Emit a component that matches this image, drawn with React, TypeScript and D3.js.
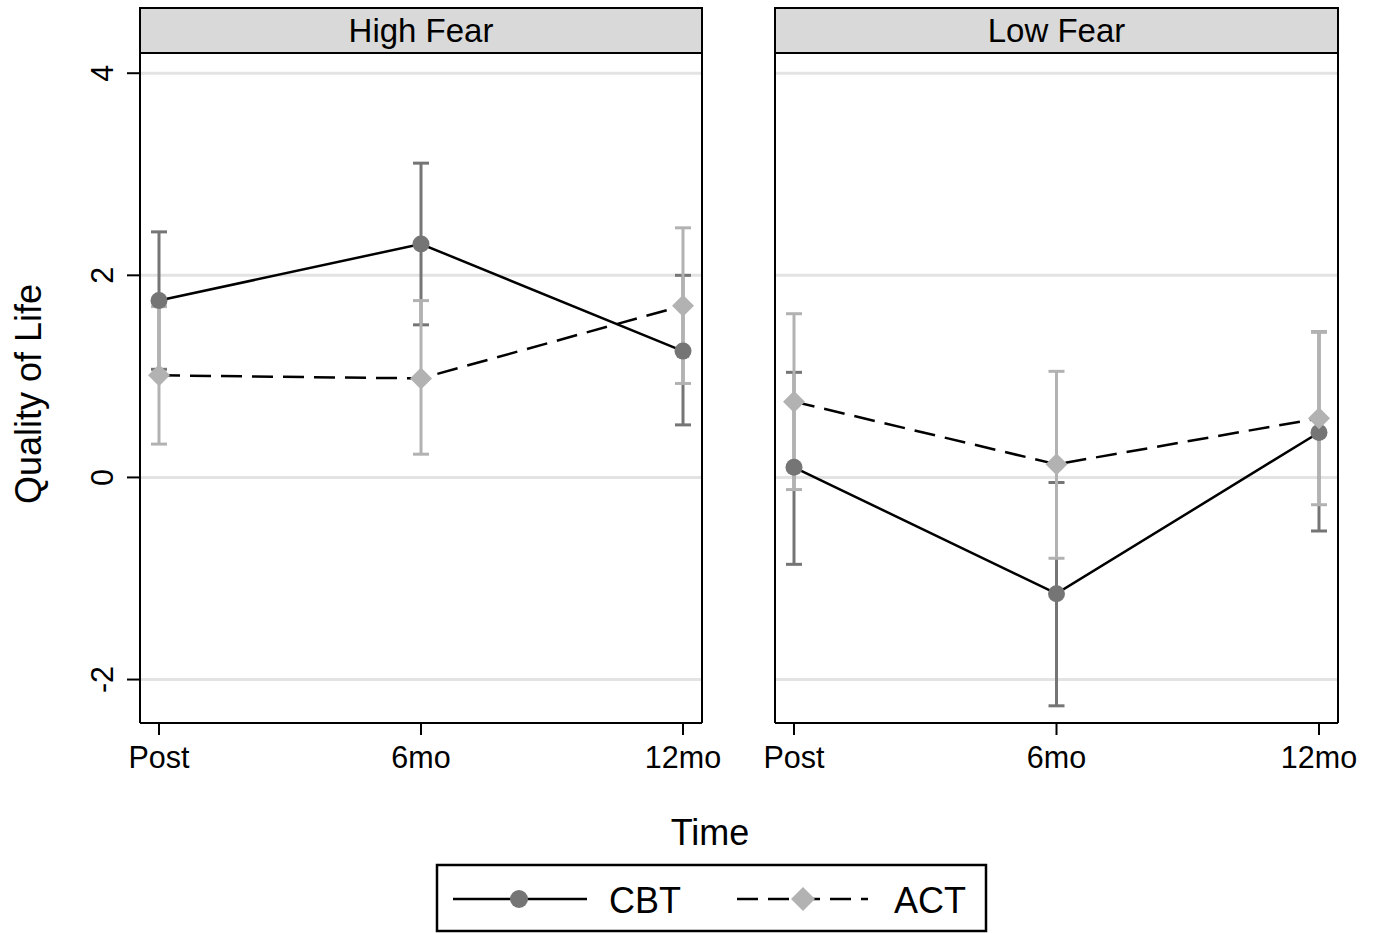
import React from "react";
import * as d3 from "d3";

const timepoints = ["Post", "6mo", "12mo"];
const panels = ["High Fear", "Low Fear"];
const yTicks = [-2, 0, 2, 4];
// [panel][time]
const cbtEst = [[1.75, 2.31, 1.25], [0.10, -1.15, 0.445]];
const cbtLo = [[1.07, 1.51, 0.52], [-0.86, -2.26, -0.53]];
const cbtHi = [[2.43, 3.11, 2.0], [1.04, -0.05, 1.44]];
const actEst = [[1.01, 0.98, 1.70], [0.75, 0.13, 0.585]];
const actLo = [[0.33, 0.23, 0.93], [-0.12, -0.80, -0.27]];
const actHi = [[1.69, 1.75, 2.47], [1.62, 1.05, 1.44]];

const CBT_COL = "#757575";
const ACT_COL = "#b2b2b2";
const FONT = "'Liberation Sans', Arial, Helvetica, sans-serif";
const DASH = "21,10";

export default function App() {
  const W = 1374, H = 933;
  const panelX = [[140, 702], [775, 1338]];
  const stripTop = 8, plotTop = 53, plotBot = 723;
  const y = d3.scaleLinear().domain([-2.43, 4.2]).range([plotBot, plotTop]);

  const errBar = (x: number, lo: number, hi: number, col: string, key: string) => (
    <g key={key} stroke={col} strokeWidth={3}>
      <line x1={x} x2={x} y1={y(lo)} y2={y(hi)} />
      <line x1={x - 8} x2={x + 8} y1={y(lo)} y2={y(lo)} />
      <line x1={x - 8} x2={x + 8} y1={y(hi)} y2={y(hi)} />
    </g>
  );
  const diamond = (cx: number, cy: number, r: number) =>
    `M${cx},${cy - r}L${cx + r},${cy}L${cx},${cy + r}L${cx - r},${cy}Z`;

  return (
    <svg width={W} height={H} style={{ position: "absolute", left: 0, top: 0, background: "#fff" }} fontFamily={FONT}>
      <rect width={W} height={H} fill="#fff" />
      {panels.map((p, pi) => {
        const [x0, x1] = panelX[pi];
        const x = d3.scalePoint<string>().domain(timepoints).range([x0 + 19, x1 - 19]);
        const line = d3.line<number>().x((_, i) => x(timepoints[i])!).y((d) => y(d));
        return (
          <g key={p}>
            {yTicks.map((t) => (
              <line key={t} x1={x0} x2={x1} y1={y(t)} y2={y(t)} stroke="#e3e3e3" strokeWidth={3} />
            ))}
            <rect x={x0} y={stripTop} width={x1 - x0} height={plotTop - stripTop} fill="#d9d9d9" stroke="#000" strokeWidth={2} />
            <text x={(x0 + x1) / 2} y={(stripTop + plotTop) / 2 + 11} textAnchor="middle" fontSize={33}>{p}</text>
            <line x1={x0} x2={x0} y1={plotTop} y2={plotBot} stroke="#000" strokeWidth={2} />
            <line x1={x1} x2={x1} y1={plotTop} y2={plotBot} stroke="#000" strokeWidth={2} />
            <line x1={x0} x2={x1} y1={plotBot} y2={plotBot} stroke="#000" strokeWidth={2} />
            {timepoints.map((t) => (
              <g key={t}>
                <line x1={x(t)} x2={x(t)} y1={plotBot} y2={plotBot + 12} stroke="#000" strokeWidth={2} />
                <text x={x(t)} y={plotBot + 45} textAnchor="middle" fontSize={30.5}>{t}</text>
              </g>
            ))}
            {pi === 0 && yTicks.map((t) => (
              <g key={t}>
                <line x1={x0 - 13} x2={x0} y1={y(t)} y2={y(t)} stroke="#000" strokeWidth={2} />
                <text transform={`translate(${x0 - 27},${y(t)}) rotate(-90)`} textAnchor="middle" fontSize={30.5}>{t}</text>
              </g>
            ))}
            {timepoints.map((t, i) => errBar(x(t)!, cbtLo[pi][i], cbtHi[pi][i], CBT_COL, "c" + i))}
            {timepoints.map((t, i) => errBar(x(t)!, actLo[pi][i], actHi[pi][i], ACT_COL, "a" + i))}
            <path d={line(cbtEst[pi])!} fill="none" stroke="#000" strokeWidth={2.5} />
            <path d={line(actEst[pi])!} fill="none" stroke="#000" strokeWidth={2.5} strokeDasharray={DASH} />
            {timepoints.map((t, i) => (
              <circle key={"cc" + i} cx={x(t)} cy={y(cbtEst[pi][i])} r={8.5} fill={CBT_COL} />
            ))}
            {timepoints.map((t, i) => (
              <path key={"ad" + i} d={diamond(x(t)!, y(actEst[pi][i]), 11)} fill={ACT_COL} />
            ))}
          </g>
        );
      })}
      <text transform={`translate(41,${(plotTop + plotBot) / 2 + 6}) rotate(-90)`} textAnchor="middle" fontSize={36}>Quality of Life</text>
      <text x={710} y={845} textAnchor="middle" fontSize={36}>Time</text>
      <g>
        <rect x={437} y={865} width={549} height={66} fill="#fff" stroke="#000" strokeWidth={2.5} />
        <line x1={453} x2={587} y1={899} y2={899} stroke="#000" strokeWidth={2.5} />
        <circle cx={519} cy={899} r={9} fill={CBT_COL} />
        <text x={609} y={913} fontSize={36}>CBT</text>
        <line x1={737} x2={868} y1={899} y2={899} stroke="#000" strokeWidth={2.5} strokeDasharray={DASH} />
        <path d={diamond(803, 899, 12)} fill={ACT_COL} />
        <text x={894} y={913} fontSize={36}>ACT</text>
      </g>
    </svg>
  );
}
